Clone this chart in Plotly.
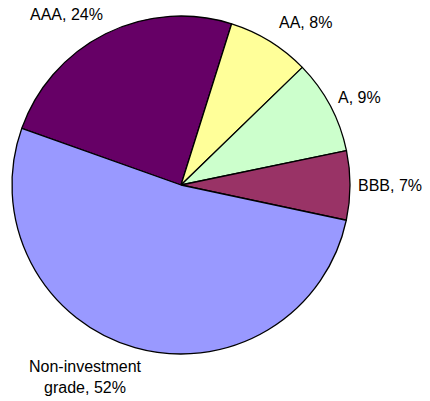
import plotly.graph_objects as go

labels = ["AAA", "AA", "A", "BBB", "Non-investment grade"]
label_text = ["AAA", "AA", "A", "BBB", "Non-investment<br>grade"]
values = [24.4, 7.9, 9.0, 6.6, 52.1]
colors = ["#660066", "#FFFF99", "#CCFFCC", "#993366", "#9999FF"]

W, H = 430, 401
cx, cy, r = 181, 185, 169

fig = go.Figure(go.Pie(
    labels=labels,
    values=values,
    sort=False,
    direction="clockwise",
    rotation=289.6,
    marker=dict(colors=colors, line=dict(color="black", width=1.3)),
    textinfo="none",
    hoverinfo="label+percent",
    showlegend=False,
    domain=dict(x=[(cx - r) / W, (cx + r) / W],
                y=[(H - cy - r) / H, (H - cy + r) / H]),
))

# label anchor positions (pixels)
label_pos = [(66, 14), (305, 23), (359, 97), (390, 185), (85, 377)]
total = sum(values)
for lt, v, (px, py) in zip(label_text, values, label_pos):
    fig.add_annotation(
        x=px / W, y=1 - py / H, xref="paper", yref="paper",
        text=f"{lt}, {round(100 * v / total)}%",
        showarrow=False, xanchor="center", yanchor="middle",
        font=dict(family="Liberation Sans, Arial, sans-serif", size=16, color="black"),
    )

fig.update_layout(
    width=W, height=H,
    margin=dict(l=0, r=0, t=0, b=0),
    paper_bgcolor="white",
    plot_bgcolor="white",
)

fig.write_html("out.html")
